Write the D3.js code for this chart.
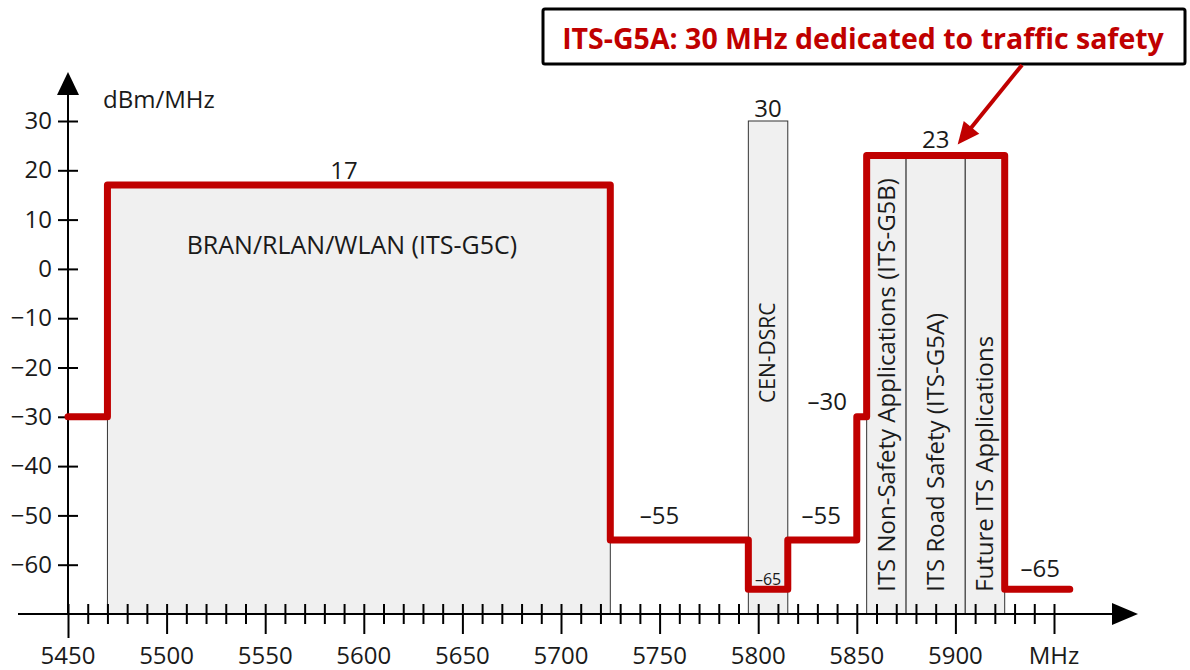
<!DOCTYPE html>
<html>
<head>
<meta charset="utf-8">
<script src="https://cdn.jsdelivr.net/npm/d3@7"></script>
<style>
  body { margin: 0; background: #fff; }
  text { font-family: "Open Sans", sans-serif; fill: #1a1a1a; }
</style>
</head>
<body>
<svg id="chart" width="1190" height="670"></svg>
<script>
// spectrum mask, one horizontal step per entry (MHz, dBm/MHz)
const segStart = [5450, 5470, 5725, 5795, 5815, 5850, 5855, 5925];
const segEnd   = [5470, 5725, 5795, 5815, 5850, 5855, 5925, 5958];
const segLevel = [-30, 17, -55, -65, -55, -30, 23, -65];

// frequency bands (grey boxes)
const bandName  = ["BRAN/RLAN/WLAN (ITS-G5C)", "CEN-DSRC",
                   "ITS Non-Safety Applications (ITS-G5B)",
                   "ITS Road Safety (ITS-G5A)", "Future ITS Applications"];
const bandStart = [5470, 5795, 5855, 5875, 5905];
const bandEnd   = [5725, 5815, 5875, 5905, 5925];
const bandTop   = [17, 30, 23, 23, 23];

// level annotations
const labelFreq  = [5590, 5805, 5750, 5832, 5805, 5845, 5890, 5943];
const labelLevel = [17, 30, -55, -55, -65, -30, 23, -65];

const xMajor = [5450, 5500, 5550, 5600, 5650, 5700, 5750, 5800, 5850, 5900, 5950];
const xMajorLabel = ["5450", "5500", "5550", "5600", "5650", "5700", "5750", "5800", "5850", "5900", "MHz"];
const yTicks = [-60, -50, -40, -30, -20, -10, 0, 10, 20, 30];

const callout = "ITS-G5A: 30 MHz dedicated to traffic safety";

const red = "#c00000";
const svg = d3.select("#chart");

const x = d3.scaleLinear().domain([5450, 5950]).range([68, 1054]);
const y = d3.scaleLinear().domain([-70, 30]).range([614, 121]);

// grey band boxes
svg.append("g").selectAll("rect")
  .data(bandName)
  .join("rect")
  .attr("x", (d, i) => x(bandStart[i]))
  .attr("y", (d, i) => y(bandTop[i]))
  .attr("width", (d, i) => x(bandEnd[i]) - x(bandStart[i]))
  .attr("height", (d, i) => y(-70) - y(bandTop[i]))
  .style("fill", "#f0f0f0")
  .style("stroke", "#333")
  .style("stroke-width", 1);

// band names
svg.append("text")
  .attr("x", x((bandStart[0] + bandEnd[0]) / 2) - 7)
  .attr("y", y(0) - 15)
  .style("text-anchor", "middle")
  .style("font-size", "25px")
  .text(bandName[0]);

svg.append("text")
  .attr("transform", `translate(${x((bandStart[1] + bandEnd[1]) / 2)},${y(-17)}) rotate(-90)`)
  .attr("dy", "0.35em")
  .style("text-anchor", "middle")
  .style("font-size", "21px")
  .text(bandName[1]);

[2, 3, 4].forEach(i => {
  svg.append("text")
    .attr("transform", `translate(${x((bandStart[i] + bandEnd[i]) / 2)},${y(-65.5)}) rotate(-90)`)
    .attr("dy", "0.35em")
    .style("text-anchor", "start")
    .style("font-size", "24px")
    .text(bandName[i]);
});

// x axis
const xAxis = svg.append("g")
  .attr("transform", `translate(0,${y(-70)})`)
  .call(d3.axisBottom(x).tickValues(d3.range(5450, 5951, 10)).tickSize(20).tickFormat(""));
xAxis.select(".domain").remove();
xAxis.selectAll(".tick line")
  .attr("y1", -10)
  .attr("y2", d => d % 50 === 0 ? (d === 5450 ? 24 : 20) : 10)
  .style("stroke", "#000").style("stroke-width", 2);

svg.append("g").selectAll("text")
  .data(xMajor)
  .join("text")
  .attr("x", d => x(d))
  .attr("y", y(-70) + 50)
  .style("text-anchor", "middle")
  .style("font-size", "24px")
  .text((d, i) => xMajorLabel[i]);

svg.append("line")
  .attr("x1", 18).attr("x2", 1115)
  .attr("y1", y(-70)).attr("y2", y(-70))
  .style("stroke", "#000").style("stroke-width", 2);
svg.append("path")
  .attr("d", `M1138,${y(-70)} L1112,${y(-70) - 11} L1112,${y(-70) + 11} Z`)
  .style("fill", "#000");

// y axis
const yAxis = svg.append("g")
  .attr("transform", `translate(${x(5450)},0)`)
  .call(d3.axisLeft(y).tickValues(yTicks).tickSize(10).tickPadding(6));
yAxis.select(".domain").remove();
yAxis.selectAll(".tick line").attr("x2", 10).attr("x1", -10)
  .style("stroke", "#000").style("stroke-width", 2);
yAxis.selectAll(".tick text").style("font-size", "24px").style("font-family", "Open Sans");

svg.append("line")
  .attr("x1", x(5450)).attr("x2", x(5450))
  .attr("y1", 92).attr("y2", y(-70))
  .style("stroke", "#000").style("stroke-width", 2);
svg.append("path")
  .attr("d", `M${x(5450)},72 L${x(5450) - 11},95 L${x(5450) + 11},95 Z`)
  .style("fill", "#000");

svg.append("text")
  .attr("x", 103).attr("y", 108)
  .style("font-size", "24px")
  .text("dBm/MHz");

// mask line
const maskPts = [];
segStart.forEach((s, i) => {
  maskPts.push([s, segLevel[i]]);
  maskPts.push([segEnd[i], segLevel[i]]);
});
svg.append("path")
  .datum(maskPts)
  .attr("d", d3.line().x(d => x(d[0])).y(d => y(d[1])))
  .style("fill", "none")
  .style("stroke", red)
  .style("stroke-width", 7)
  .style("stroke-linejoin", "round")
  .style("stroke-linecap", "round");

// level labels
const nudge = [-6, -4, -16, -16, -4, -7, -8, -12];
const anchor = ["middle", "middle", "middle", "middle", "middle", "end", "middle", "middle"];
svg.append("g").selectAll("text")
  .data(labelLevel)
  .join("text")
  .attr("x", (d, i) => x(labelFreq[i]))
  .attr("y", (d, i) => y(d) + nudge[i])
  .style("text-anchor", (d, i) => anchor[i])
  .style("font-size", (d, i) => i === 4 ? "16px" : "24px")
  .text(d => d < 0 ? "\u2013" + Math.abs(d) : d);

// callout
svg.append("rect")
  .attr("x", 543).attr("y", 9)
  .attr("width", 642).attr("height", 55)
  .attr("rx", 2)
  .style("fill", "#fff")
  .style("stroke", "#000")
  .style("stroke-width", 3);
svg.append("text")
  .attr("x", 863).attr("y", 49)
  .style("text-anchor", "middle")
  .style("font-size", "28.5px")
  .style("font-weight", "bold")
  .style("fill", red)
  .text(callout);

const ax0 = 1022, ay0 = 65, ax1 = x(5890) + 22, ay1 = y(23) - 11;
svg.append("line")
  .attr("x1", ax0).attr("y1", ay0).attr("x2", ax1 + 8).attr("y2", ay1 - 10)
  .style("stroke", red).style("stroke-width", 4);
const ang = Math.atan2(ay1 - ay0, ax1 - ax0);
const hl = 22, hw = 10;
const bx = ax1 - hl * Math.cos(ang), by = ay1 - hl * Math.sin(ang);
svg.append("path")
  .attr("d", `M${ax1},${ay1} L${bx + hw * Math.sin(ang)},${by - hw * Math.cos(ang)} L${bx - hw * Math.sin(ang)},${by + hw * Math.cos(ang)} Z`)
  .style("fill", red);
</script>
</body>
</html>
